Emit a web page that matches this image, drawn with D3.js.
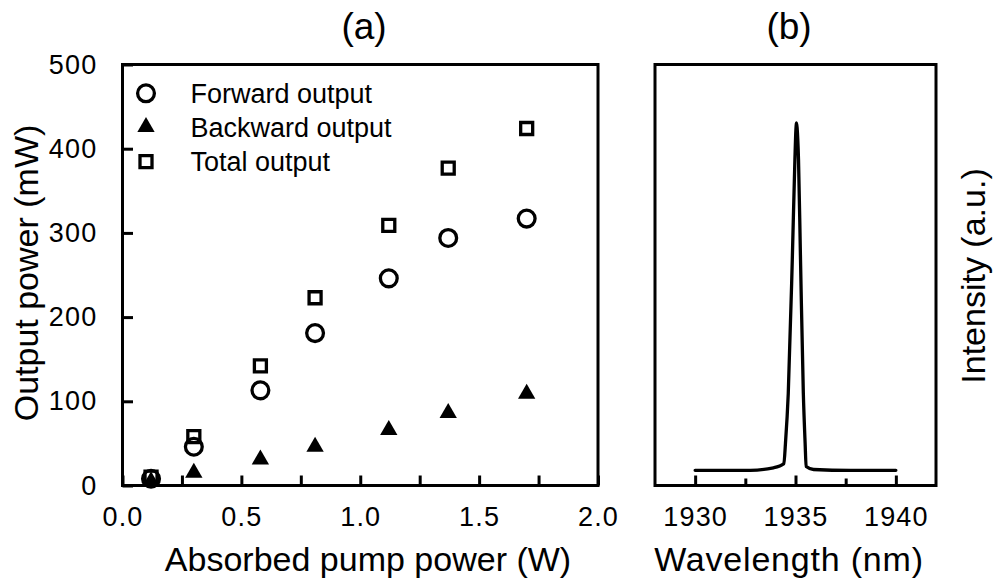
<!DOCTYPE html>
<html>
<head>
<meta charset="utf-8">
<script src="https://cdn.jsdelivr.net/npm/d3@7"></script>
<style>
  html, body { margin: 0; padding: 0; background: #fff; }
  svg { display: block; font-family: "Liberation Sans", Arial, sans-serif; }
</style>
</head>
<body>
<svg id="chart" width="993" height="582"></svg>
<script>
// ---- Panel (a) data ----
const pumpPower = [0.12, 0.30, 0.58, 0.81, 1.12, 1.37, 1.70];
const forwardOutput = [8, 46, 113, 181, 246, 294, 317];
const backwardOutput = [5, 15, 31, 46, 66, 86, 109];
const totalOutput = [10, 58, 142, 223, 309, 377, 424];
const seriesNames = ["Forward output", "Backward output", "Total output"];
const xTicksA = [0, 0.25, 0.5, 0.75, 1.0, 1.25, 1.5, 1.75, 2.0];
const xLabelsA = [0.0, 0.5, 1.0, 1.5, 2.0];
const yTicksA = [0, 100, 200, 300, 400, 500];

// ---- Panel (b) data ----
const wavelength = [1930.0, 1932.75, 1933.9, 1934.42, 1934.5, 1934.64, 1934.84, 1934.97, 1935.02, 1935.05, 1935.08, 1935.15, 1935.25, 1935.39, 1935.48, 1935.53, 1935.9, 1937.75, 1940.0];
const intensity  = [0.036, 0.036, 0.042, 0.052, 0.10, 0.219, 0.536, 0.774, 0.845, 0.861, 0.85, 0.774, 0.536, 0.219, 0.10, 0.045, 0.038, 0.036, 0.036];
const xMajorB = [1930, 1935, 1940];
const xMinorB = [1932.5, 1937.5];

const svg = d3.select("#chart");
const FONT_TICK = 27, FONT_TITLE = 34, FONT_PANEL = 37, FONT_LEG = 27;

// ---- Scales ----
const xA = d3.scaleLinear().domain([0, 2]).range([122.5, 598]);
const yA = d3.scaleLinear().domain([0, 500]).range([485.5, 64.5]);
const xB = d3.scaleLinear().domain([1928, 1942]).range([655, 936]);
const yB = d3.scaleLinear().domain([0, 1]).range([485.5, 64.5]);

function styleAxis(g) {
  g.select(".domain").remove();
  g.selectAll(".tick line").attr("stroke", "#000").attr("stroke-width", 3);
  g.selectAll(".tick text").attr("fill", "#000").attr("font-size", FONT_TICK)
    .attr("font-family", "Liberation Sans, Arial, sans-serif").attr("letter-spacing", 1.2);
}

// ---- Panel (a) axes ----
svg.append("g").attr("transform", `translate(0,${yA(0)})`)
  .call(d3.axisBottom(xA).tickValues(xTicksA).tickSize(-10).tickFormat(""))
  .call(styleAxis);
svg.append("g").attr("transform", `translate(0,${yA(0)})`)
  .call(d3.axisBottom(xA).tickValues(xLabelsA).tickSize(0).tickPadding(21).tickFormat(d3.format(".1f")))
  .call(styleAxis);
svg.append("g").attr("transform", `translate(0,${xA(0) === 0 ? 0 : 0})`);
svg.append("g").attr("transform", `translate(${xA(0)},0)`)
  .call(d3.axisLeft(yA).tickValues(yTicksA).tickSize(-10.5).tickPadding(25).tickFormat(d3.format("d")))
  .call(styleAxis);

// ---- Panel (b) axes ----
svg.append("g").attr("transform", `translate(0,${yB(0)})`)
  .call(d3.axisBottom(xB).tickValues(xMajorB).tickSize(-10).tickPadding(21).tickFormat(d3.format("d")))
  .call(styleAxis);
svg.append("g").attr("transform", `translate(0,${yB(0)})`)
  .call(d3.axisBottom(xB).tickValues(xMinorB).tickSize(-7).tickFormat(""))
  .call(styleAxis);

// ---- Frames ----
svg.append("rect").attr("x", xA(0)).attr("y", yA(500))
  .attr("width", xA(2) - xA(0)).attr("height", yA(0) - yA(500))
  .attr("fill", "none").attr("stroke", "#000").attr("stroke-width", 3);
svg.append("rect").attr("x", xB(1928)).attr("y", yB(1))
  .attr("width", xB(1942) - xB(1928)).attr("height", yB(0) - yB(1))
  .attr("fill", "none").attr("stroke", "#000").attr("stroke-width", 3);

// ---- Markers ----
const circleSym = d3.symbol().type(d3.symbolCircle).size(Math.PI * 8.4 * 8.4);
const squareSym = d3.symbol().type(d3.symbolSquare).size(12 * 12);
const triSym = d3.symbol().type(d3.symbolTriangle).size(130);

const gPts = svg.append("g");
function drawSeries(vals, sym, filled) {
  gPts.selectAll(null).data(pumpPower.map((x, i) => [x, vals[i]])).enter()
    .append("path")
    .attr("d", sym)
    .attr("transform", d => `translate(${xA(d[0])},${yA(d[1])})`)
    .attr("fill", filled ? "#000" : "none")
    .attr("stroke", filled ? "none" : "#000")
    .attr("stroke-width", 3.3);
}
drawSeries(totalOutput, squareSym, false);
drawSeries(forwardOutput, circleSym, false);
drawSeries(backwardOutput, triSym, true);

// ---- Legend ----
const legSyms = [[circleSym, false], [triSym, true], [squareSym, false]];
const legY = [93.3, 127, 161.7];
seriesNames.forEach((name, i) => {
  svg.append("path").attr("d", legSyms[i][0])
    .attr("transform", `translate(146,${legY[i]})`)
    .attr("fill", legSyms[i][1] ? "#000" : "none")
    .attr("stroke", legSyms[i][1] ? "none" : "#000")
    .attr("stroke-width", 3.3);
  svg.append("text").attr("x", 190.5).attr("y", legY[i] + 9.5)
    .attr("font-size", FONT_LEG).attr("fill", "#000").text(name);
});

// ---- Spectrum ----
const line = d3.line().x(d => xB(d[0])).y(d => yB(d[1])).curve(d3.curveMonotoneX);
svg.append("path").datum(wavelength.map((w, i) => [w, intensity[i]]))
  .attr("d", line).attr("fill", "none").attr("stroke", "#000")
  .attr("stroke-width", 3.3).attr("stroke-linejoin", "round").attr("stroke-linecap", "round");

// ---- Titles ----
svg.append("text").attr("x", 364).attr("y", 39).attr("text-anchor", "middle")
  .attr("font-size", FONT_PANEL).text("(a)");
svg.append("text").attr("x", 789).attr("y", 39).attr("text-anchor", "middle")
  .attr("font-size", FONT_PANEL).text("(b)");
svg.append("text").attr("x", 368).attr("y", 571).attr("text-anchor", "middle")
  .attr("font-size", FONT_TITLE).text("Absorbed pump power (W)");
svg.append("text").attr("x", 789).attr("y", 571).attr("text-anchor", "middle")
  .attr("font-size", FONT_TITLE).attr("letter-spacing", 0.8).text("Wavelength (nm)");
svg.append("text").attr("transform", "translate(38,273) rotate(-90)").attr("text-anchor", "middle")
  .attr("font-size", FONT_TITLE).text("Output power (mW)");
svg.append("text").attr("transform", "translate(985,276) rotate(-90)").attr("text-anchor", "middle")
  .attr("font-size", FONT_TITLE).text("Intensity (a.u.)");
</script>
</body>
</html>
